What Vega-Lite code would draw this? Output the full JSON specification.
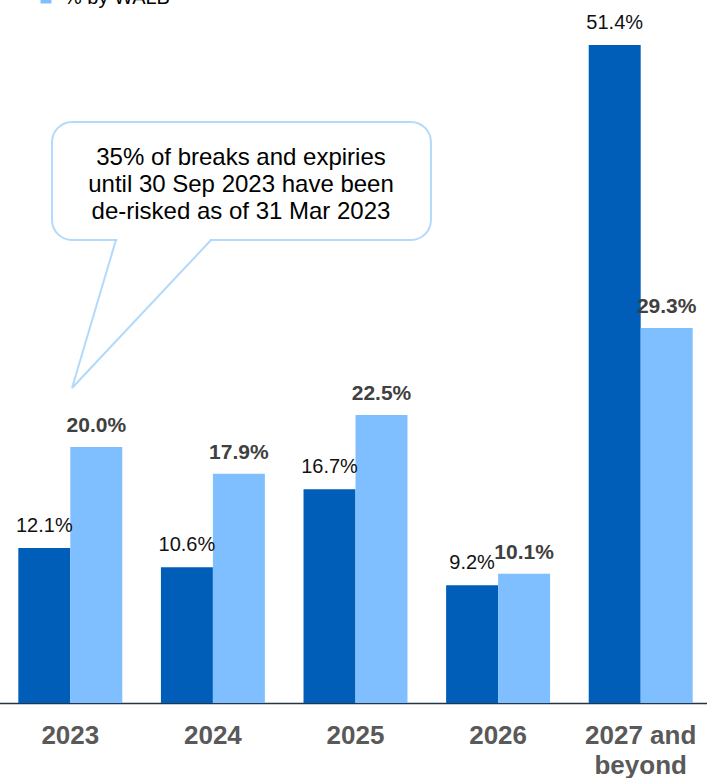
{
  "$schema": "https://vega.github.io/schema/vega-lite/v6.json",
  "width": 713,
  "height": 703,
  "autosize": "none",
  "padding": {"left": -1, "top": 0, "right": 0, "bottom": 75},
  "config": {"view": {"stroke": null}, "font": "Liberation Sans"},
  "resolve": {"scale": {"x": "independent"}},
  "layer": [
    {
      "data": {
        "values": [
          {"year": "2023", "series": "% by NLA", "value": 12.1, "label": "12.1%"},
          {"year": "2023", "series": "% by WALB", "value": 20.0, "label": "20.0%"},
          {"year": "2024", "series": "% by NLA", "value": 10.6, "label": "10.6%"},
          {"year": "2024", "series": "% by WALB", "value": 17.9, "label": "17.9%"},
          {"year": "2025", "series": "% by NLA", "value": 16.7, "label": "16.7%"},
          {"year": "2025", "series": "% by WALB", "value": 22.5, "label": "22.5%"},
          {"year": "2026", "series": "% by NLA", "value": 9.2, "label": "9.2%"},
          {"year": "2026", "series": "% by WALB", "value": 10.1, "label": "10.1%"},
          {"year": "2027 and beyond", "series": "% by NLA", "value": 51.4, "label": "51.4%"},
          {"year": "2027 and beyond", "series": "% by WALB", "value": 29.3, "label": "29.3%"}
        ]
      },
      "encoding": {
        "x": {
          "field": "year", "type": "nominal", "sort": null,
          "scale": {"paddingInner": 0.271, "paddingOuter": 0.1355},
          "axis": {
            "title": null, "labelAngle": 0, "ticks": false,
            "domainColor": "#22364a", "domainWidth": 1.5,
            "labelFontSize": 26, "labelFontWeight": "bold", "labelColor": "#595959",
            "labelPadding": 19, "labelLineHeight": 30,
            "labelExpr": "datum.value == '2027 and beyond' ? ['2027 and', 'beyond'] : datum.value"
          }
        },
        "xOffset": {"field": "series", "type": "nominal", "sort": null},
        "y": {"field": "value", "type": "quantitative", "scale": {"domain": [0, 54.92], "nice": false}, "axis": null}
      },
      "layer": [
        {
          "mark": {"type": "bar"},
          "encoding": {
            "color": {
              "field": "series", "type": "nominal",
              "scale": {"domain": ["% by NLA", "% by WALB"], "range": ["#005EB8", "#7FBFFF"]},
              "legend": {
                "title": null, "orient": "none", "legendX": 37, "legendY": -38,
                "symbolType": "square", "symbolSize": 120, "symbolStrokeWidth": 0,
                "labelFontSize": 20, "labelColor": "#000000", "labelOffset": 8,
                "rowPadding": 6
              }
            }
          }
        },
        {
          "transform": [{"filter": "datum.series == '% by NLA'"}],
          "mark": {"type": "text", "baseline": "alphabetic", "dy": -16, "fontSize": 20, "color": "#111111"},
          "encoding": {"text": {"field": "label"}}
        },
        {
          "transform": [{"filter": "datum.series == '% by WALB'"}],
          "mark": {"type": "text", "baseline": "alphabetic", "dy": -15, "fontSize": 21, "fontWeight": "bold", "color": "#404040"},
          "encoding": {"text": {"field": "label"}}
        }
      ]
    },
    {
      "layer": [
        {
          "data": {"values": [{"ax": 0.372, "ax2": 3.029, "ay": 45.39, "ay2": 36.17}]},
          "mark": {"type": "rect", "cornerRadius": 20, "fill": "#ffffff", "stroke": "#B3D9FB", "strokeWidth": 2},
          "encoding": {
            "x": {"field": "ax", "type": "quantitative", "scale": {"domain": [0, 5], "nice": false, "zero": false}, "axis": null},
            "x2": {"field": "ax2"},
            "y": {"field": "ay", "type": "quantitative", "scale": {"domain": [0, 54.92], "nice": false}, "axis": null},
            "y2": {"field": "ay2"}
          }
        },
        {
          "data": {"values": [{"ax": 0.83, "ax2": 1.478, "ay": 36.17}]},
          "mark": {"type": "rule", "stroke": "#ffffff", "strokeWidth": 4},
          "encoding": {
            "x": {"field": "ax", "type": "quantitative", "scale": {"domain": [0, 5], "nice": false, "zero": false}, "axis": null},
            "x2": {"field": "ax2"},
            "y": {"field": "ay", "type": "quantitative", "scale": {"domain": [0, 54.92], "nice": false}, "axis": null}
          }
        },
        {
          "data": {"values": [
            {"ax": 0.82, "ay": 36.17, "o": 1},
            {"ax": 0.512, "ay": 24.61, "o": 2},
            {"ax": 1.487, "ay": 36.17, "o": 3}
          ]},
          "mark": {"type": "line", "stroke": "#B3D9FB", "strokeWidth": 2},
          "encoding": {
            "x": {"field": "ax", "type": "quantitative", "scale": {"domain": [0, 5], "nice": false, "zero": false}, "axis": null},
            "y": {"field": "ay", "type": "quantitative", "scale": {"domain": [0, 54.92], "nice": false}, "axis": null},
            "order": {"field": "o"}
          }
        },
        {
          "data": {"values": [{"ax": 1.697, "ay": 42.58, "t": "35% of breaks and expiries|until 30 Sep 2023 have been|de-risked as of 31 Mar 2023"}]},
          "mark": {"type": "text", "lineBreak": "|", "fontSize": 24, "lineHeight": 27, "baseline": "middle", "align": "center", "color": "#000000"},
          "encoding": {
            "x": {"field": "ax", "type": "quantitative", "scale": {"domain": [0, 5], "nice": false, "zero": false}, "axis": null},
            "y": {"field": "ay", "type": "quantitative", "scale": {"domain": [0, 54.92], "nice": false}, "axis": null},
            "text": {"field": "t"}
          }
        }
      ]
    }
  ]
}
